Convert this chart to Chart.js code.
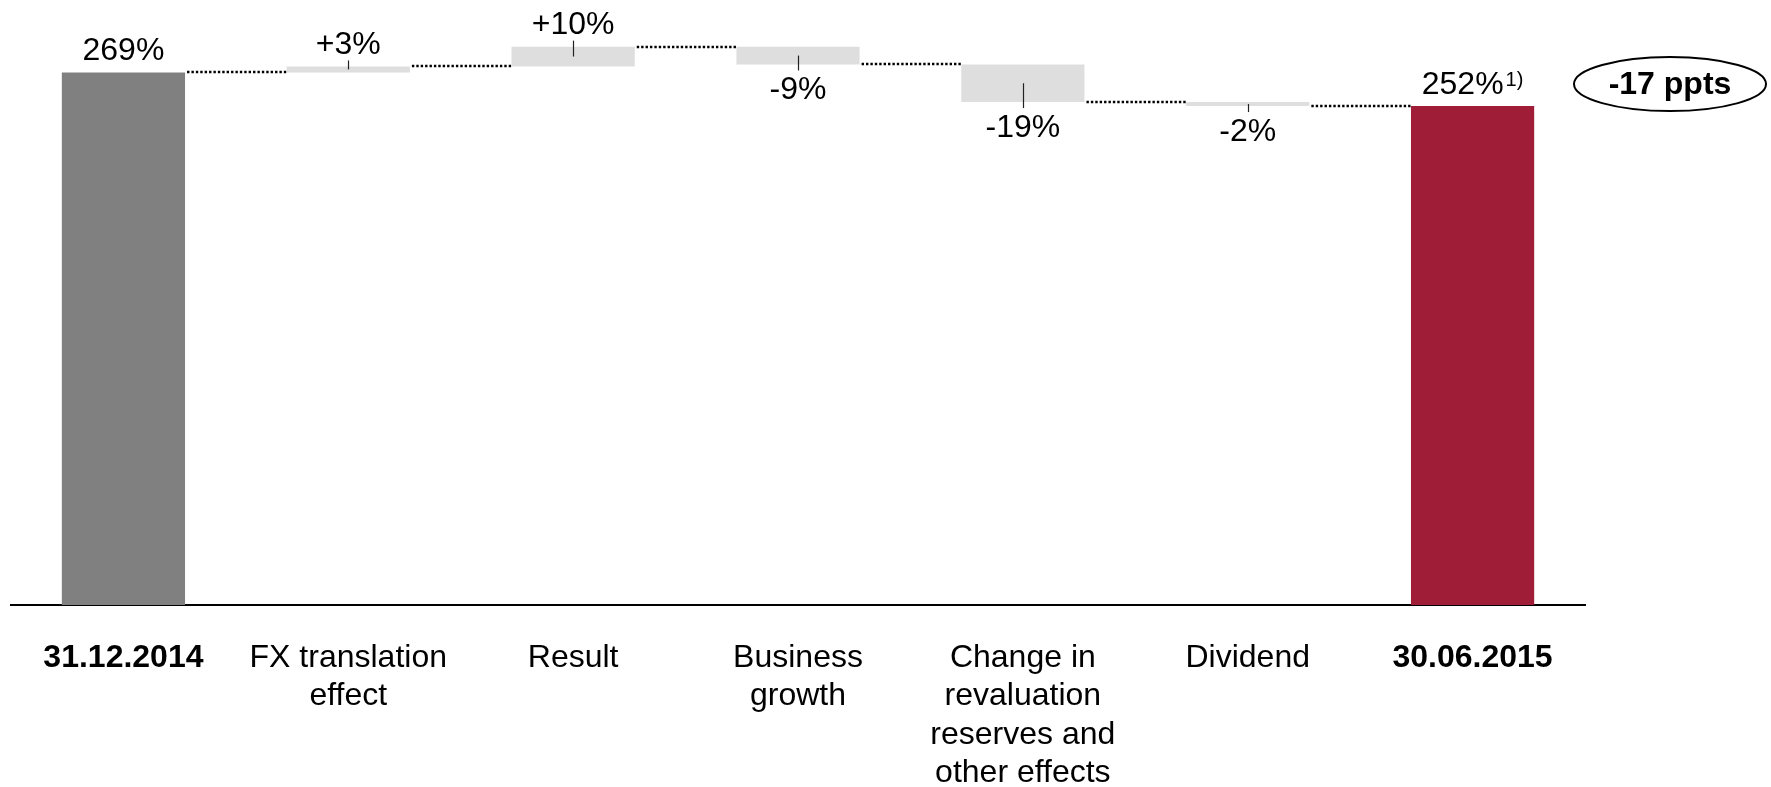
<!DOCTYPE html>
<html>
<head>
<meta charset="utf-8">
<script src="https://cdn.jsdelivr.net/npm/chart.js@4"></script>
<style>
  html, body { margin: 0; padding: 0; background: #fff; overflow: hidden; }
  #wrap { width: 1771px; height: 787px; }
</style>
</head>
<body>
<div id="wrap"><canvas id="ratioChart"></canvas></div>
<script>
// column captions (one entry per text line)
var categories = [
    ['31.12.2014'],
    ['FX translation', 'effect'],
    ['Result'],
    ['Business', 'growth'],
    ['Change in', 'revaluation', 'reserves and', 'other effects'],
    ['Dividend'],
    ['30.06.2015']
];
var startValue = 269;                 // opening ratio, %
var changes = [3, 10, -9, -19, -2];   // movements, ppts
var endValue = 252;                   // closing ratio, %
var endNote = '1)';

var FONT = "'Liberation Sans', Arial, Helvetica, sans-serif";

// floating bars [from, to] plus the running level after each column
var ranges = [[0, startValue]];
var levels = [startValue];
var running = startValue;
changes.forEach(function (c) {
    ranges.push([running, running + c]);
    running += c;
    levels.push(running);
});
ranges.push([0, endValue]);
levels.push(endValue);

var lastIdx = ranges.length - 1;
var barColors = ranges.map(function (r, i) {
    if (i === 0) return '#808080';
    if (i === lastIdx) return '#9f1d37';
    return '#dedede';
});

function valueText(i) {
    if (i === 0) return startValue + '%';
    if (i === lastIdx) return endValue + '%';
    var c = changes[i - 1];
    return (c > 0 ? '+' : '') + c + '%';
}

var waterfallPlugin = {
    id: 'waterfallLabels',
    afterDatasetsDraw: function (chart) {
        var ctx = chart.ctx;
        var meta = chart.getDatasetMeta(0);
        var yScale = chart.scales.y;
        var i, el, top, bottom;
        ctx.save();

        // dotted connectors between neighbouring bars
        ctx.strokeStyle = '#000';
        ctx.lineWidth = 2.5;
        ctx.setLineDash([2.4, 2]);
        for (i = 0; i < lastIdx; i++) {
            var a = meta.data[i], b = meta.data[i + 1];
            var ly = Math.round(yScale.getPixelForValue(levels[i]));
            ctx.beginPath();
            ctx.moveTo(a.x + a.width / 2 + 2, ly);
            ctx.lineTo(b.x - b.width / 2, ly);
            ctx.stroke();
        }
        ctx.setLineDash([]);

        // value labels, with a short leader line on the movement bars
        ctx.fillStyle = '#000';
        ctx.textBaseline = 'middle';
        ctx.textAlign = 'center';
        var lastLabelY = 0;
        for (i = 0; i <= lastIdx; i++) {
            el = meta.data[i];
            top = Math.min(el.y, el.base);
            bottom = Math.max(el.y, el.base);
            var isChange = i > 0 && i < lastIdx;
            var down = isChange && changes[i - 1] < 0;
            var ty = down ? bottom + 26 : top - 21;

            if (isChange) {
                var mid = (top + bottom) / 2;
                ctx.strokeStyle = '#222';
                ctx.lineWidth = 1.2;
                ctx.beginPath();
                ctx.moveTo(Math.round(el.x) + 0.5, mid);
                ctx.lineTo(Math.round(el.x) + 0.5, down ? bottom + 6 : top - 6);
                ctx.stroke();
            }

            var txt = valueText(i);
            ctx.font = '32px ' + FONT;
            if (i === lastIdx) {
                // closing value carries a footnote mark
                var w1 = ctx.measureText(txt).width;
                ctx.font = '20px ' + FONT;
                var w2 = ctx.measureText(endNote).width;
                var x0 = el.x - (w1 + 2 + w2) / 2;
                ctx.textAlign = 'left';
                ctx.font = '32px ' + FONT;
                ctx.fillText(txt, x0, ty);
                ctx.font = '20px ' + FONT;
                ctx.fillText(endNote, x0 + w1 + 2, ty - 5);
                ctx.textAlign = 'center';
                lastLabelY = ty;
            } else {
                ctx.fillText(txt, el.x, ty);
            }
        }

        // overall change badge
        var cx = chart.width - 101;
        ctx.strokeStyle = '#000';
        ctx.lineWidth = 2;
        ctx.beginPath();
        ctx.ellipse(cx, lastLabelY - 1, 96, 27, 0, 0, Math.PI * 2);
        ctx.stroke();
        ctx.font = 'bold 32px ' + FONT;
        ctx.fillText((endValue - startValue) + ' ppts', cx, lastLabelY);

        ctx.restore();
    }
};

var ctx = document.getElementById('ratioChart').getContext('2d');
var ratioChart = new Chart(ctx, {
    type: 'bar',
    data: {
        labels: categories,
        datasets: [{
            data: ranges,
            backgroundColor: barColors,
            borderWidth: 0,
            categoryPercentage: 1,
            barPercentage: 0.548
        }]
    },
    options: {
        responsive: true,
        maintainAspectRatio: false,
        animation: false,
        layout: {
            padding: { top: 11, left: 11, right: 186, bottom: 0 }
        },
        plugins: {
            legend: { display: false },
            tooltip: { enabled: false }
        },
        scales: {
            x: {
                grid: { display: false },
                border: { display: true, color: '#000', width: 2 },
                ticks: {
                    color: '#000',
                    padding: 26,
                    maxRotation: 0,
                    autoSkip: false,
                    font: function (c) {
                        var bold = c.index === 0 || c.index === lastIdx;
                        return { family: FONT, size: 32, weight: bold ? 'bold' : 'normal', lineHeight: 1.2 };
                    }
                },
                afterFit: function (scale) {
                    scale.height = 182;
                }
            },
            y: {
                display: false,
                min: 0,
                max: 300
            }
        }
    },
    plugins: [waterfallPlugin]
});
</script>
</body>
</html>
